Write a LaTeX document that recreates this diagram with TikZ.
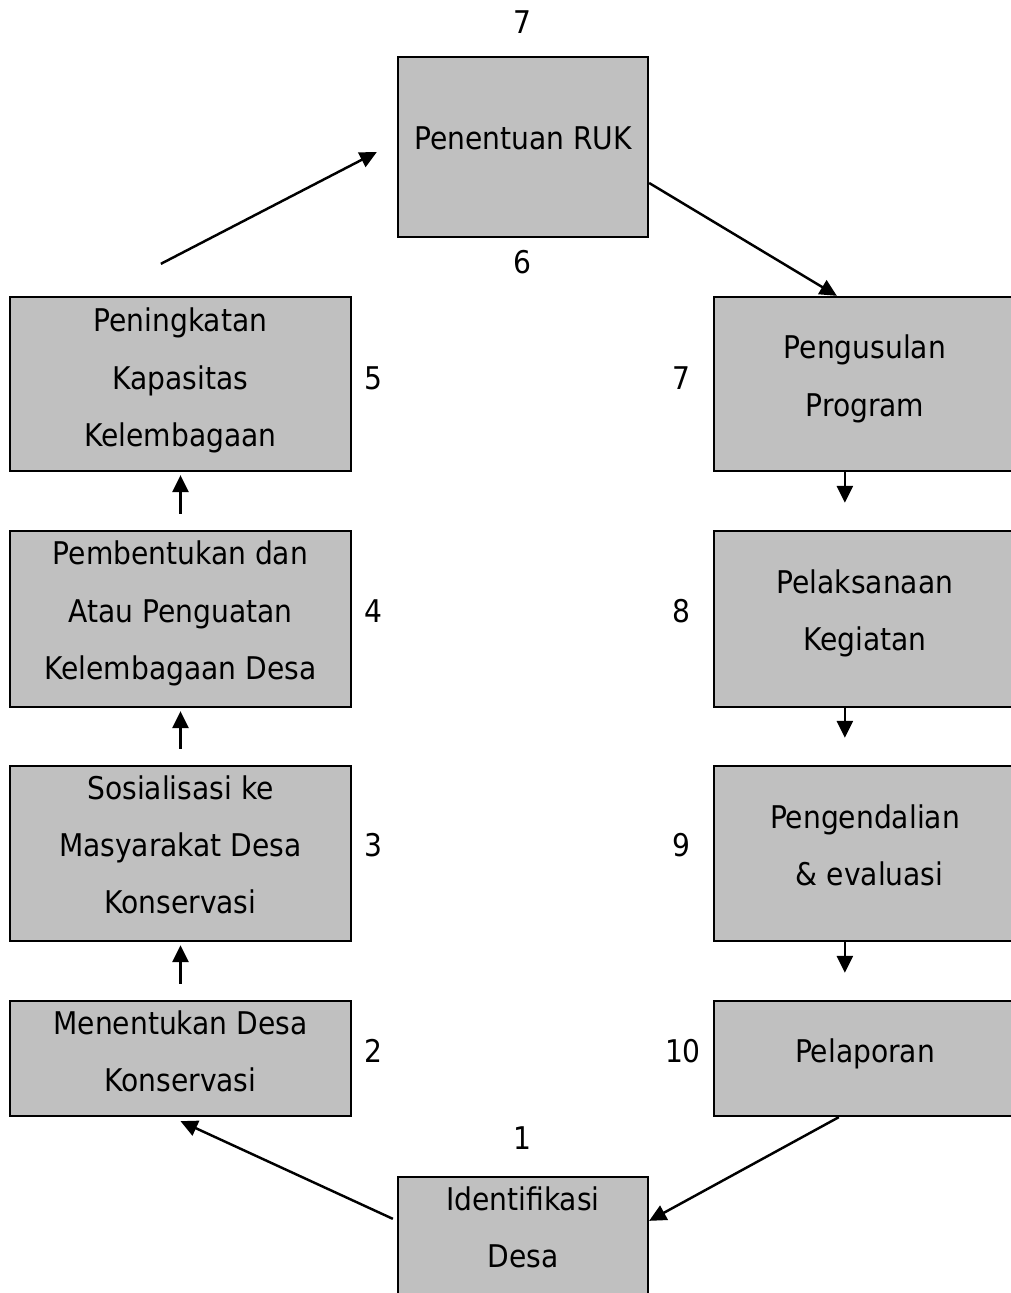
\documentclass[tikz,border=0pt]{standalone}
\usepackage{fontspec}
\setmainfont{DejaVu Sans Condensed}
\usetikzlibrary{arrows.meta,calc,positioning}
\definecolor{boxgray}{RGB}{192,192,192}

\begin{document}
\begin{tikzpicture}[>={Triangle[length=0.34cm,width=0.32cm]}]
  \tikzstyle{stage}=[rectangle,draw=black,fill=boxgray,line width=1.3pt,inner sep=0pt]
  \tikzstyle{stagetext}=[align=center,inner sep=0pt,
                         font=\fontsize{17.8}{32.6}\selectfont]
  \tikzstyle{stagenum}=[font=\fontsize{17.8}{20}\selectfont]
  \tikzstyle{flow}=[->,line width=1.4pt]
  \useasboundingbox (0,0) rectangle (20.2,25.86);
  % top
  \node [stage,minimum width=5cm,minimum height=3.6cm] (ruk) at (10.46,22.92) {};
  \node [stagetext] (ruk-t) at ([yshift=0.18cm]ruk.center) {Penentuan RUK};
  % left column
  \node [stage,minimum width=6.82cm,minimum height=3.48cm] (kap) at (3.61,18.18) {};
  \node [stagetext] (kap-t) at ([yshift=0.07cm]kap.center) {Peningkatan\\Kapasitas\\Kelembagaan};
  \node [stage,minimum width=6.82cm,minimum height=3.52cm] (lem) at (3.61,13.48) {};
  \node [stagetext] (lem-t) at ([yshift=0.11cm]lem.center) {Pembentukan dan\\Atau Penguatan\\Kelembagaan Desa};
  \node [stage,minimum width=6.82cm,minimum height=3.5cm] (sos) at (3.61,8.79) {};
  \node [stagetext] (sos-t) at ([yshift=0.17cm]sos.center) {Sosialisasi ke\\Masyarakat Desa\\Konservasi};
  \node [stage,minimum width=6.82cm,minimum height=2.3cm] (tentu) at (3.61,4.69) {};
  \node [stagetext] (tentu-t) at ([yshift=0.15cm]tentu.center) {Menentukan Desa\\Konservasi};
  % right column
  \node [stage,minimum width=6.04cm,minimum height=3.48cm] (usul) at (17.3,18.18) {};
  \node [stagetext] (usul-t) at ([yshift=0.1cm]usul.center) {Pengusulan\\Program};
  \node [stage,minimum width=6.04cm,minimum height=3.52cm] (laks) at (17.3,13.48) {};
  \node [stagetext] (laks-t) at ([yshift=0.11cm]laks.center) {Pelaksanaan\\Kegiatan};
  \node [stage,minimum width=6.04cm,minimum height=3.5cm] (kendali) at (17.3,8.79) {};
  \node [stagetext] (kendali-t) at ([yshift=0.16cm]kendali.center) {Pengendalian\\\hspace*{0.3em}\& evaluasi};
  \node [stage,minimum width=6.04cm,minimum height=2.3cm] (lapor) at (17.3,4.69) {};
  \node [stagetext] (lapor-t) at ([yshift=0.1cm]lapor.center) {Pelaporan};
  % bottom
  \node [stage,minimum width=5cm,minimum height=2.4cm] (ident) at (10.46,1.12) {};
  \node [stagetext] (ident-t) at ([yshift=0.19cm]ident.center) {Identifikasi\\Desa};
  % numbers
  \node [stagenum] (n7a) at (10.44,25.42) {7};
  \node [stagenum] (n6) at (10.44,20.62) {6};
  \node [stagenum] (n5) at (7.46,18.3) {5};
  \node [stagenum] (n4) at (7.46,13.64) {4};
  \node [stagenum] (n3) at (7.46,8.96) {3};
  \node [stagenum] (n2) at (7.46,4.84) {2};
  \node [stagenum] (n7b) at (13.62,18.3) {7};
  \node [stagenum] (n8) at (13.62,13.64) {8};
  \node [stagenum] (n9) at (13.62,8.96) {9};
  \node [stagenum] (n10) at (13.66,4.84) {10};
  \node [stagenum] (n1) at (10.44,3.1) {1};
  % arrows
  \draw [flow,shorten <=0.32cm,shorten >=0.06cm] (tentu) -- (sos);
  \draw [flow,shorten <=0.32cm,shorten >=0.06cm] (sos) -- (lem);
  \draw [flow,shorten <=0.32cm,shorten >=0.06cm] (lem) -- (kap);
  \draw [flow] ([shift={(3.04,0.64)}]kap.north west) -- ([shift={(-0.4,-0.1)}]ruk.west);
  \draw [flow] ([yshift=-0.72cm]ruk.east) -- ([xshift=2.48cm]usul.north west);
  \draw [flow,shorten >=0.54cm] ([xshift=2.64cm]usul.south west) -- ([xshift=2.64cm]laks.north west);
  \draw [flow,shorten >=0.54cm] ([xshift=2.64cm]laks.south west) -- ([xshift=2.64cm]kendali.north west);
  \draw [flow,shorten >=0.54cm] ([xshift=2.64cm]kendali.south west) -- ([xshift=2.64cm]lapor.north west);
  \draw [flow] ([xshift=2.52cm]lapor.south west) -- ([yshift=-0.9cm]ident.north east);
  \draw [flow] ([shift={(-0.08,-0.86)}]ident.north west) -- ([yshift=-0.08cm]tentu.south);
\end{tikzpicture}
\end{document}
